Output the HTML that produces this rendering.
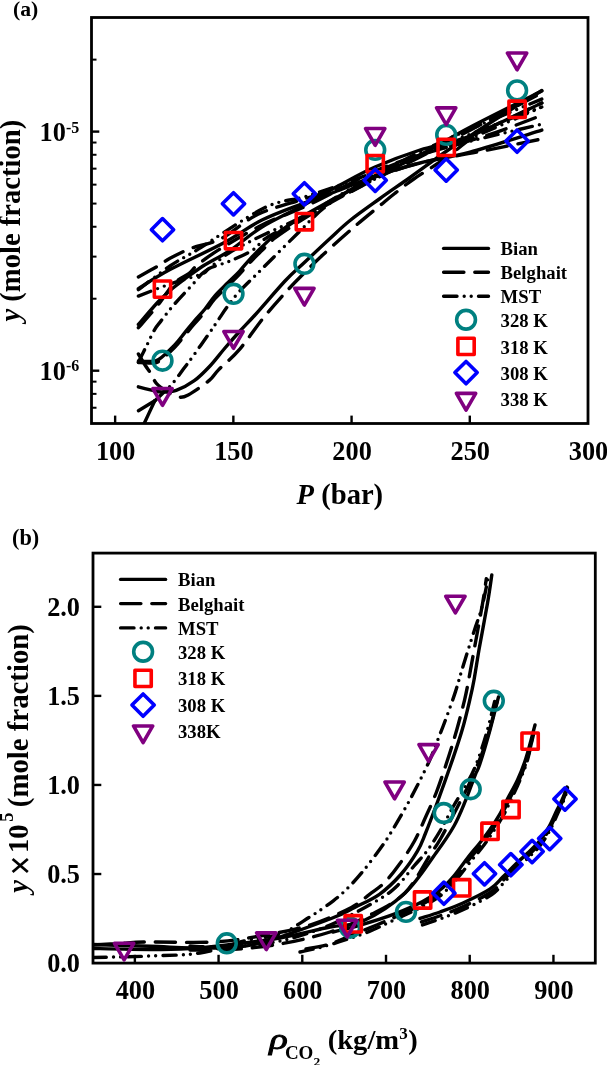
<!DOCTYPE html>
<html><head><meta charset="utf-8"><style>
html,body{margin:0;padding:0;background:#fff;width:607px;height:1065px;overflow:hidden}
svg{display:block;will-change:transform}
text{font-family:"Liberation Serif",serif}
</style></head><body>
<svg width="607" height="1065" viewBox="0 0 607 1065" font-family="Liberation Serif, serif"><line x1="115.14" y1="423.50" x2="115.14" y2="415.60" stroke="#000" stroke-width="2.4" stroke-linecap="butt"/>
<line x1="233.36" y1="423.50" x2="233.36" y2="415.60" stroke="#000" stroke-width="2.4" stroke-linecap="butt"/>
<line x1="351.57" y1="423.50" x2="351.57" y2="415.60" stroke="#000" stroke-width="2.4" stroke-linecap="butt"/>
<line x1="469.79" y1="423.50" x2="469.79" y2="415.60" stroke="#000" stroke-width="2.4" stroke-linecap="butt"/>
<text x="115.64" y="459.60" font-size="26.3" text-anchor="middle" font-weight="bold" font-style="normal" >100</text>
<text x="233.86" y="459.60" font-size="26.3" text-anchor="middle" font-weight="bold" font-style="normal" >150</text>
<text x="352.07" y="459.60" font-size="26.3" text-anchor="middle" font-weight="bold" font-style="normal" >200</text>
<text x="470.29" y="459.60" font-size="26.3" text-anchor="middle" font-weight="bold" font-style="normal" >250</text>
<text x="588.50" y="459.60" font-size="26.3" text-anchor="middle" font-weight="bold" font-style="normal" >300</text>
<line x1="91.50" y1="407.74" x2="96.50" y2="407.74" stroke="#000" stroke-width="2.0" stroke-linecap="butt"/>
<line x1="91.50" y1="393.87" x2="96.50" y2="393.87" stroke="#000" stroke-width="2.0" stroke-linecap="butt"/>
<line x1="91.50" y1="381.64" x2="96.50" y2="381.64" stroke="#000" stroke-width="2.0" stroke-linecap="butt"/>
<line x1="91.50" y1="370.70" x2="99.30" y2="370.70" stroke="#000" stroke-width="2.4" stroke-linecap="butt"/>
<line x1="91.50" y1="298.72" x2="96.50" y2="298.72" stroke="#000" stroke-width="2.0" stroke-linecap="butt"/>
<line x1="91.50" y1="256.62" x2="96.50" y2="256.62" stroke="#000" stroke-width="2.0" stroke-linecap="butt"/>
<line x1="91.50" y1="226.75" x2="96.50" y2="226.75" stroke="#000" stroke-width="2.0" stroke-linecap="butt"/>
<line x1="91.50" y1="203.58" x2="96.50" y2="203.58" stroke="#000" stroke-width="2.0" stroke-linecap="butt"/>
<line x1="91.50" y1="184.64" x2="96.50" y2="184.64" stroke="#000" stroke-width="2.0" stroke-linecap="butt"/>
<line x1="91.50" y1="168.64" x2="96.50" y2="168.64" stroke="#000" stroke-width="2.0" stroke-linecap="butt"/>
<line x1="91.50" y1="154.77" x2="96.50" y2="154.77" stroke="#000" stroke-width="2.0" stroke-linecap="butt"/>
<line x1="91.50" y1="142.54" x2="96.50" y2="142.54" stroke="#000" stroke-width="2.0" stroke-linecap="butt"/>
<line x1="91.50" y1="131.60" x2="99.30" y2="131.60" stroke="#000" stroke-width="2.4" stroke-linecap="butt"/>
<line x1="91.50" y1="59.62" x2="96.50" y2="59.62" stroke="#000" stroke-width="2.0" stroke-linecap="butt"/>
<text x="39.6" y="140.8" font-size="26.3" font-weight="bold">10<tspan dy="-8.2" font-size="16">-5</tspan></text>
<text x="39.6" y="379.6" font-size="26.3" font-weight="bold">10<tspan dy="-8.2" font-size="16">-6</tspan></text>
<rect x="91.5" y="17.5" width="496.5" height="406.0" fill="none" stroke="#000" stroke-width="2.8"/>
<text x="296.6" y="504.4" font-size="28.6" font-weight="bold"><tspan font-style="italic">P</tspan> (bar)</text>
<text transform="translate(19.9,321.5) rotate(-90)" font-size="28.6" font-weight="bold"><tspan font-style="italic">y</tspan> (mole fraction)</text>
<text x="13.00" y="15.70" font-size="21.7" text-anchor="start" font-weight="bold" font-style="normal" >(a)</text>
<line x1="134.86" y1="963.10" x2="134.86" y2="954.80" stroke="#000" stroke-width="2.4" stroke-linecap="butt"/>
<text x="135.36" y="999.20" font-size="26.3" text-anchor="middle" font-weight="bold" font-style="normal" >400</text>
<line x1="218.57" y1="963.10" x2="218.57" y2="954.80" stroke="#000" stroke-width="2.4" stroke-linecap="butt"/>
<text x="219.07" y="999.20" font-size="26.3" text-anchor="middle" font-weight="bold" font-style="normal" >500</text>
<line x1="302.29" y1="963.10" x2="302.29" y2="954.80" stroke="#000" stroke-width="2.4" stroke-linecap="butt"/>
<text x="302.79" y="999.20" font-size="26.3" text-anchor="middle" font-weight="bold" font-style="normal" >600</text>
<line x1="386.01" y1="963.10" x2="386.01" y2="954.80" stroke="#000" stroke-width="2.4" stroke-linecap="butt"/>
<text x="386.51" y="999.20" font-size="26.3" text-anchor="middle" font-weight="bold" font-style="normal" >700</text>
<line x1="469.72" y1="963.10" x2="469.72" y2="954.80" stroke="#000" stroke-width="2.4" stroke-linecap="butt"/>
<text x="470.22" y="999.20" font-size="26.3" text-anchor="middle" font-weight="bold" font-style="normal" >800</text>
<line x1="553.44" y1="963.10" x2="553.44" y2="954.80" stroke="#000" stroke-width="2.4" stroke-linecap="butt"/>
<text x="553.94" y="999.20" font-size="26.3" text-anchor="middle" font-weight="bold" font-style="normal" >900</text>
<text x="80.00" y="971.80" font-size="26.3" text-anchor="end" font-weight="bold" font-style="normal" >0.0</text>
<line x1="93.00" y1="874.02" x2="101.30" y2="874.02" stroke="#000" stroke-width="2.4" stroke-linecap="butt"/>
<text x="80.00" y="882.73" font-size="26.3" text-anchor="end" font-weight="bold" font-style="normal" >0.5</text>
<line x1="93.00" y1="784.95" x2="101.30" y2="784.95" stroke="#000" stroke-width="2.4" stroke-linecap="butt"/>
<text x="80.00" y="793.65" font-size="26.3" text-anchor="end" font-weight="bold" font-style="normal" >1.0</text>
<line x1="93.00" y1="695.88" x2="101.30" y2="695.88" stroke="#000" stroke-width="2.4" stroke-linecap="butt"/>
<text x="80.00" y="704.58" font-size="26.3" text-anchor="end" font-weight="bold" font-style="normal" >1.5</text>
<line x1="93.00" y1="606.80" x2="101.30" y2="606.80" stroke="#000" stroke-width="2.4" stroke-linecap="butt"/>
<text x="80.00" y="615.50" font-size="26.3" text-anchor="end" font-weight="bold" font-style="normal" >2.0</text>
<rect x="93.0" y="553.1" width="502.29999999999995" height="410.0" fill="none" stroke="#000" stroke-width="2.8"/>
<text x="12.00" y="544.80" font-size="22.3" text-anchor="start" font-weight="bold" font-style="normal" >(b)</text>
<text transform="translate(269.2,1048.6) scale(1.3,1)" font-size="29.7" font-style="italic" stroke="#000" stroke-width="0.9">ρ</text>
<text x="284.9" y="1058.5" font-size="19" font-weight="bold">CO</text>
<text x="313.6" y="1065.6" font-size="13.5" font-weight="bold">2</text>
<text transform="translate(327.7,1048.6) scale(1.075,1)" font-size="26.6" font-weight="bold">(kg/m</text>
<text x="399.2" y="1039" font-size="17" font-weight="bold">3</text>
<text transform="translate(408.2,1048.6) scale(1.075,1)" font-size="26.6" font-weight="bold">)</text>
<text transform="translate(27.9,892.70) rotate(-90)" font-size="28.6" font-weight="bold" font-style="italic">y</text>
<line x1="12.60" y1="858.90" x2="27.80" y2="872.00" stroke="#000" stroke-width="2.7" stroke-linecap="butt"/>
<line x1="12.60" y1="872.00" x2="27.80" y2="858.90" stroke="#000" stroke-width="2.7" stroke-linecap="butt"/>
<text transform="translate(27.9,853.10) rotate(-90)" font-size="28.6" font-weight="bold" font-style="normal">10</text>
<text transform="translate(12.5,821.70) rotate(-90)" font-size="18.5" font-weight="bold" font-style="normal">5</text>
<text transform="translate(27.9,807.20) rotate(-90)" font-size="28.8" font-weight="bold" font-style="normal">(mole fraction)</text>
<defs><clipPath id="ca"><rect x="91.5" y="17.5" width="496.5" height="406.0"/></clipPath><clipPath id="cb"><rect x="93.0" y="553.1" width="502.29999999999995" height="410.0"/></clipPath></defs>
<path d="M143.0 426.0C145.0 421.8 152.8 405.0 154.8 400.8" fill="none" stroke="#000" stroke-width="3.4" stroke-linecap="round" stroke-linejoin="round"   clip-path="url(#ca)"/>
<path d="M138.4 410.7C141.1 409.1 152.1 402.4 154.8 400.8" fill="none" stroke="#000" stroke-width="3.4" stroke-linecap="round" stroke-linejoin="round"   clip-path="url(#ca)"/>
<path d="M138.4 276.9C142.0 274.9 154.5 268.0 159.8 264.9C165.1 261.8 164.8 261.1 170.0 258.3C175.2 255.6 182.2 251.7 190.8 248.4C199.4 245.1 210.2 244.2 221.4 238.5C232.6 232.8 244.2 220.9 258.0 214.3C271.8 207.7 290.3 203.4 304.0 199.0C317.7 194.6 328.2 191.7 340.0 188.0C351.8 184.3 361.7 181.2 375.0 177.0C388.3 172.8 402.7 167.2 420.0 163.0C437.3 158.8 458.7 155.7 479.0 151.7C499.3 147.7 531.3 141.1 541.8 139.0" fill="none" stroke="#000" stroke-width="3.4" stroke-linecap="round" stroke-linejoin="round" stroke-dasharray="20.3 10.9"  clip-path="url(#ca)"/>
<path d="M138.4 288.6C143.7 285.4 155.8 277.2 170.0 269.6C184.2 262.0 208.1 251.3 223.4 243.0C238.7 234.7 248.6 226.7 262.0 220.0C275.4 213.3 291.0 208.0 304.0 203.0C317.0 198.0 329.0 194.2 340.0 190.0C351.0 185.8 356.7 182.5 370.0 178.0C383.3 173.5 403.3 167.3 420.0 163.0C436.7 158.7 449.7 157.7 470.0 152.2C490.3 146.7 529.8 133.8 541.8 130.1" fill="none" stroke="#000" stroke-width="3.4" stroke-linecap="round" stroke-linejoin="round"   clip-path="url(#ca)"/>
<path d="M138.4 289.7C143.7 285.8 160.6 272.4 170.0 266.0C179.4 259.6 189.4 254.6 194.7 251.4C200.0 248.2 190.0 254.3 201.6 247.0C213.2 239.7 247.4 216.1 264.5 207.8C281.6 199.5 291.4 200.8 304.0 197.0C316.6 193.2 328.2 189.2 340.0 185.0C351.8 180.8 361.7 177.0 375.0 172.0C388.3 167.0 404.2 160.1 420.0 155.0C435.8 149.9 449.7 146.3 470.0 141.2C490.3 136.1 529.8 127.0 541.8 124.2" fill="none" stroke="#000" stroke-width="3.4" stroke-linecap="round" stroke-linejoin="round" stroke-dasharray="13.4 7.2 0 7.0 0 7.3"  clip-path="url(#ca)"/>
<path d="M138.4 296.1C143.7 294.1 159.5 287.7 170.0 284.0C180.5 280.3 195.0 276.7 201.6 274.1C208.2 271.5 204.8 270.4 209.5 268.2C214.2 266.0 222.9 264.0 230.0 261.0C237.1 258.0 246.4 254.0 252.2 250.3C258.0 246.7 260.1 242.4 264.6 239.1C269.1 235.8 274.2 233.4 279.4 230.5C284.5 227.6 291.4 224.1 295.5 221.8C299.6 219.5 296.7 221.4 304.1 216.9C311.5 212.4 328.2 202.0 340.0 195.0C351.8 188.0 361.7 181.7 375.0 175.0C388.3 168.3 404.2 161.1 420.0 155.0C435.8 148.9 449.7 146.2 470.0 138.2C490.3 130.2 529.8 112.2 541.8 107.0" fill="none" stroke="#000" stroke-width="3.4" stroke-linecap="round" stroke-linejoin="round" stroke-dasharray="13.4 7.2 0 7.0 0 7.3"  clip-path="url(#ca)"/>
<path d="M138.4 324.5C141.7 320.8 152.2 308.1 158.0 302.0C163.8 295.9 166.0 293.7 173.0 288.0C180.0 282.3 190.6 274.2 200.0 268.0C209.4 261.8 219.0 257.7 229.3 250.9C239.6 244.1 249.6 234.7 262.0 227.0C274.4 219.3 291.0 212.0 304.0 205.0C317.0 198.0 328.2 191.3 340.0 185.0C351.8 178.7 361.7 172.8 375.0 167.0C388.3 161.2 404.2 155.1 420.0 150.0C435.8 144.9 449.7 144.0 470.0 136.2C490.3 128.4 529.8 108.5 541.8 103.0" fill="none" stroke="#000" stroke-width="3.4" stroke-linecap="round" stroke-linejoin="round"   clip-path="url(#ca)"/>
<path d="M138.4 327.7C141.7 323.9 152.1 312.4 158.0 305.0C163.9 297.6 168.9 288.7 174.0 283.5C179.1 278.3 184.9 276.7 188.8 273.6C192.8 270.5 192.6 268.7 197.7 264.7C202.8 260.7 208.7 256.0 219.4 249.4C230.1 242.8 247.9 232.1 262.0 225.0C276.1 217.9 291.0 213.0 304.0 207.0C317.0 201.0 328.2 195.0 340.0 189.0C351.8 183.0 361.7 176.7 375.0 171.0C388.3 165.3 401.3 160.9 420.0 155.0C438.7 149.1 466.7 142.0 487.0 135.4C507.3 128.8 532.7 118.7 541.8 115.3" fill="none" stroke="#000" stroke-width="3.4" stroke-linecap="round" stroke-linejoin="round" stroke-dasharray="20.3 10.9"  clip-path="url(#ca)"/>
<path d="M138.4 361.0C140.3 361.1 146.6 361.8 150.0 361.5C153.4 361.2 154.6 362.2 158.7 359.5C162.8 356.8 170.1 349.6 174.5 345.1C178.9 340.6 181.7 336.3 185.0 332.3C188.3 328.3 191.0 324.9 194.3 321.0C197.6 317.1 201.4 313.4 204.8 309.2C208.2 305.0 210.9 300.4 214.7 296.0C218.5 291.6 223.7 286.9 227.8 282.8C231.9 278.7 235.6 275.4 239.4 271.3C243.2 267.2 247.1 262.2 250.9 258.1C254.7 254.0 258.4 250.4 262.4 246.6C266.4 242.8 268.7 239.8 275.0 235.0C281.3 230.2 290.8 223.7 300.0 218.0C309.2 212.3 320.0 206.5 330.0 201.0C340.0 195.5 352.5 189.0 360.0 185.0C367.5 181.0 365.0 182.0 375.0 177.0C385.0 172.0 404.2 163.3 420.0 155.0C435.8 146.7 449.7 137.9 470.0 127.2C490.3 116.5 529.8 97.0 541.8 91.0" fill="none" stroke="#000" stroke-width="3.4" stroke-linecap="round" stroke-linejoin="round"   clip-path="url(#ca)"/>
<path d="M138.4 362.5C140.3 362.6 146.6 363.2 150.0 363.0C153.4 362.8 154.6 364.1 158.7 361.5C162.8 358.9 170.1 351.9 174.5 347.5C178.9 343.1 181.7 338.9 185.0 335.0C188.3 331.1 191.0 327.8 194.3 324.0C197.6 320.2 201.4 316.2 204.8 312.0C208.2 307.8 210.9 303.4 214.7 299.0C218.5 294.6 223.7 289.9 227.8 285.8C231.9 281.7 235.6 278.4 239.4 274.3C243.2 270.2 247.1 265.6 250.9 261.5C254.7 257.4 258.4 253.9 262.4 250.0C266.4 246.1 268.7 242.8 275.0 238.0C281.3 233.2 290.8 226.8 300.0 221.0C309.2 215.2 320.0 208.7 330.0 203.0C340.0 197.3 352.5 191.0 360.0 187.0C367.5 183.0 365.0 184.0 375.0 179.0C385.0 174.0 404.2 165.1 420.0 157.0C435.8 148.9 449.7 140.9 470.0 130.2C490.3 119.5 529.8 99.2 541.8 93.0" fill="none" stroke="#000" stroke-width="3.4" stroke-linecap="round" stroke-linejoin="round" stroke-dasharray="20.3 10.9"  clip-path="url(#ca)"/>
<path d="M138.4 362.0C139.8 359.2 144.2 350.6 146.9 345.1C149.6 339.7 152.5 333.2 154.8 329.3C157.1 325.4 158.1 324.8 160.7 321.4C163.3 317.9 167.6 312.2 170.6 308.6C173.6 305.0 174.3 304.3 178.5 299.7C182.7 295.1 191.8 285.3 195.7 281.0C199.5 276.7 199.3 276.2 201.6 274.1C203.9 272.0 206.4 270.6 209.5 268.2C212.6 265.8 216.2 262.4 220.0 259.5C223.8 256.6 227.0 254.0 232.0 251.0C237.0 248.0 242.8 245.1 250.0 241.5C257.2 237.9 266.7 233.4 275.0 229.5C283.3 225.6 289.2 223.4 300.0 218.0C310.8 212.6 327.5 203.5 340.0 197.0C352.5 190.5 361.7 186.0 375.0 179.0C388.3 172.0 404.2 162.5 420.0 155.0C435.8 147.5 449.7 142.2 470.0 134.2C490.3 126.2 529.8 111.5 541.8 107.0" fill="none" stroke="#000" stroke-width="3.4" stroke-linecap="round" stroke-linejoin="round" stroke-dasharray="13.4 7.2 0 7.0 0 7.3"  clip-path="url(#ca)"/>
<path d="M138.4 386.8C140.6 387.4 147.6 389.2 151.5 390.1C155.4 391.0 157.9 392.0 162.0 392.0C166.1 392.0 170.8 392.2 176.2 390.3C181.6 388.4 188.7 384.8 194.3 380.7C199.9 376.6 204.9 371.4 210.0 366.0C215.1 360.6 220.0 353.8 225.0 348.0C230.0 342.2 235.0 336.5 240.0 331.0C245.0 325.5 247.5 323.3 255.0 315.0C262.5 306.7 276.8 289.8 285.0 281.0C293.2 272.2 296.9 269.6 304.4 262.5C311.9 255.4 322.4 245.5 330.0 238.5C337.6 231.5 341.7 227.2 350.0 220.5C358.3 213.8 370.0 205.7 380.0 198.5C390.0 191.3 399.0 185.3 410.0 177.5C421.0 169.7 436.0 158.4 446.0 151.5C456.0 144.6 461.0 141.8 470.0 136.0C479.0 130.2 488.0 124.1 500.0 116.5C512.0 108.9 534.8 94.8 541.8 90.5" fill="none" stroke="#000" stroke-width="3.4" stroke-linecap="round" stroke-linejoin="round"   clip-path="url(#ca)"/>
<path d="M138.4 354.0C139.5 355.8 142.8 361.6 145.0 365.0C147.2 368.4 149.6 371.4 151.5 374.5C153.4 377.6 154.0 380.9 156.6 383.7C159.2 386.5 163.4 389.3 167.0 391.5C170.6 393.7 174.8 396.3 178.3 396.9C181.8 397.5 183.0 397.6 188.2 394.9C193.4 392.1 204.2 384.6 209.3 380.4C214.4 376.2 213.4 375.1 218.5 369.9C223.6 364.7 232.5 357.6 239.8 349.1C247.1 340.6 254.9 328.5 262.4 319.1C269.9 309.8 278.4 300.3 285.0 293.0C291.6 285.7 295.4 281.8 301.7 275.5C308.0 269.2 314.1 263.0 322.7 255.0C331.3 247.0 343.9 235.8 353.5 227.5C363.1 219.2 373.1 211.2 380.0 205.5C386.9 199.8 388.9 198.0 394.7 193.5C400.4 189.0 405.9 184.4 414.5 178.5C423.1 172.6 435.1 165.6 446.0 158.0C456.9 150.4 464.0 142.2 480.0 133.0C496.0 123.8 531.5 108.0 541.8 103.0" fill="none" stroke="#000" stroke-width="3.4" stroke-linecap="round" stroke-linejoin="round" stroke-dasharray="20.3 10.9"  clip-path="url(#ca)"/>
<path d="M154.8 400.8C156.2 399.5 160.1 395.9 163.0 393.0C165.9 390.1 169.1 387.5 172.5 383.5C175.9 379.5 179.9 373.8 183.4 369.1C186.9 364.4 189.4 361.2 193.5 355.5C197.6 349.8 203.9 340.8 208.0 335.0C212.1 329.2 214.6 325.3 217.9 320.5C221.2 315.7 224.2 310.9 227.9 306.0C231.6 301.1 234.1 297.2 239.8 291.0C245.5 284.8 252.2 278.7 262.1 268.8C272.0 258.9 288.9 241.9 299.2 231.8C309.5 221.7 314.0 215.8 323.9 208.0C333.8 200.2 349.1 190.6 358.5 184.8C367.9 179.0 369.8 178.5 380.0 173.0C390.2 167.5 405.0 159.3 420.0 152.0C435.0 144.7 449.7 138.0 470.0 129.2C490.3 120.4 529.8 104.1 541.8 99.1" fill="none" stroke="#000" stroke-width="3.4" stroke-linecap="round" stroke-linejoin="round" stroke-dasharray="13.4 7.2 0 7.0 0 7.3"  clip-path="url(#ca)"/>
<path d="M93.0 957.5C102.5 957.2 132.2 956.8 150.0 956.0C167.8 955.2 184.3 955.5 200.0 953.0C215.7 950.5 230.7 944.2 244.0 941.0C257.3 937.8 269.1 938.0 280.0 934.0C290.9 930.0 300.8 922.5 309.7 917.0C318.6 911.5 326.9 905.7 333.3 900.8C339.7 895.9 343.2 892.6 348.1 887.7C353.1 882.8 357.8 877.5 363.0 871.2C368.2 864.9 374.7 856.2 379.4 849.8C384.1 843.3 385.7 841.2 391.0 832.5C396.3 823.8 404.9 809.1 411.2 797.3C417.5 785.5 424.3 772.0 429.0 761.7C433.7 751.4 436.6 742.6 439.5 735.4C442.4 728.1 443.5 725.5 446.1 718.2C448.8 711.0 452.8 699.9 455.4 691.9C458.0 683.9 458.8 680.1 461.9 670.0C465.0 659.9 470.6 641.9 474.0 631.4C477.4 620.9 479.6 616.2 482.0 607.0C484.4 597.8 487.4 581.2 488.5 576.0" fill="none" stroke="#000" stroke-width="3.4" stroke-linecap="round" stroke-linejoin="round" stroke-dasharray="13.4 7.2 0 7.0 0 7.3"  clip-path="url(#cb)"/>
<path d="M93.0 945.0C97.5 944.8 110.8 944.0 120.0 943.5C129.2 943.0 132.5 942.2 148.0 942.0C163.5 941.8 194.3 943.0 213.0 942.0C231.7 941.0 243.8 938.8 260.0 936.0C276.2 933.2 294.8 929.8 310.0 925.0C325.2 920.2 341.5 912.5 351.4 907.4C361.3 902.3 364.0 898.4 369.5 894.3C375.0 890.2 379.4 887.7 384.4 882.7C389.3 877.8 394.2 871.6 399.2 864.6C404.2 857.6 410.2 848.8 414.5 841.0C418.8 833.2 421.5 826.2 425.2 818.0C428.9 809.8 432.6 802.2 436.5 792.0C440.4 781.8 445.1 767.5 448.5 757.0C451.9 746.5 454.3 738.5 457.0 729.0C459.7 719.5 462.8 707.3 464.6 699.8C466.4 692.3 466.1 693.2 467.9 684.0C469.6 674.8 472.7 658.0 475.1 644.5C477.6 631.0 480.7 614.2 482.6 603.2C484.5 592.2 485.7 582.9 486.3 578.8" fill="none" stroke="#000" stroke-width="3.4" stroke-linecap="round" stroke-linejoin="round" stroke-dasharray="20.3 10.9"  clip-path="url(#cb)"/>
<path d="M93.0 944.5C102.5 944.8 130.0 945.7 150.0 946.3C170.0 946.9 194.7 948.6 213.0 948.1C231.3 947.6 240.5 947.9 260.0 943.0C279.5 938.1 314.2 924.9 330.0 919.0C345.8 913.1 346.5 911.5 354.7 907.4C362.9 903.3 371.7 899.8 379.4 894.3C387.1 888.8 394.5 881.6 400.8 874.5C407.1 867.4 413.2 858.3 417.3 851.4C421.4 844.5 422.1 841.6 425.6 833.0C429.1 824.4 433.7 812.3 438.2 800.0C442.7 787.7 448.6 771.0 452.7 759.1C456.8 747.2 459.7 738.5 462.5 728.8C465.3 719.1 467.6 709.2 469.5 701.1C471.4 693.0 472.4 688.9 474.0 680.0C475.6 671.1 477.1 660.8 479.3 648.0C481.6 635.2 485.4 615.4 487.5 603.2C489.6 591.0 491.1 579.7 491.8 575.0" fill="none" stroke="#000" stroke-width="3.4" stroke-linecap="round" stroke-linejoin="round"   clip-path="url(#cb)"/>
<path d="M93.0 948.5C102.5 948.7 133.8 949.5 150.0 949.5C166.2 949.5 177.2 949.2 190.0 948.5C202.8 947.8 212.0 946.8 227.0 945.0C242.0 943.2 262.8 941.0 280.0 938.0C297.2 935.0 316.2 929.8 330.0 927.0C343.8 924.2 350.5 926.7 363.0 921.0C375.5 915.3 392.8 904.3 405.0 893.0C417.2 881.7 427.8 864.2 436.0 853.0C444.2 841.8 449.1 834.7 454.0 826.0C458.9 817.3 462.0 809.1 465.5 800.6C469.0 792.1 472.8 781.0 475.2 775.0C477.6 769.0 477.2 772.0 479.7 764.5C482.2 757.0 486.9 741.2 490.0 730.0C493.1 718.8 497.1 702.5 498.5 697.0" fill="none" stroke="#000" stroke-width="3.4" stroke-linecap="round" stroke-linejoin="round"   clip-path="url(#cb)"/>
<path d="M190.0 946.0C196.2 946.2 212.0 947.8 227.0 947.0C242.0 946.2 262.8 944.7 280.0 941.0C297.2 937.3 313.7 931.8 330.0 925.0C346.3 918.2 366.7 906.7 378.0 900.0C389.3 893.3 392.0 890.7 398.0 885.0C404.0 879.3 409.2 871.7 414.0 866.0C418.8 860.3 422.7 856.8 427.0 851.0C431.3 845.2 435.7 838.3 440.0 831.0C444.3 823.7 448.7 814.7 453.0 807.0C457.3 799.3 462.2 791.8 466.0 785.0C469.8 778.2 472.2 774.3 475.5 766.0C478.8 757.7 482.8 746.0 486.0 735.0C489.2 724.0 493.5 705.8 495.0 700.0" fill="none" stroke="#000" stroke-width="3.4" stroke-linecap="round" stroke-linejoin="round" stroke-dasharray="13.4 7.2 0 7.0 0 7.3"  clip-path="url(#cb)"/>
<path d="M190.0 950.0C196.2 950.0 212.0 951.0 227.0 950.0C242.0 949.0 262.8 947.0 280.0 944.0C297.2 941.0 315.0 936.8 330.0 932.0C345.0 927.2 357.5 921.5 370.0 915.0C382.5 908.5 395.0 903.0 405.0 893.0C415.0 883.0 424.0 864.2 430.0 855.0C436.0 845.8 436.2 846.5 441.0 838.0C445.8 829.5 454.0 813.7 459.0 804.0C464.0 794.3 466.7 789.8 471.0 780.0C475.3 770.2 480.7 758.0 485.0 745.0C489.3 732.0 495.0 709.2 497.0 702.0" fill="none" stroke="#000" stroke-width="3.4" stroke-linecap="round" stroke-linejoin="round" stroke-dasharray="20.3 10.9"  clip-path="url(#cb)"/>
<path d="M333.0 932.0C337.4 930.9 349.3 928.3 359.5 925.3C369.7 922.3 383.6 918.1 394.1 914.1C404.6 910.1 415.0 905.5 422.6 901.5C430.2 897.5 434.8 894.2 440.0 890.0C445.2 885.8 449.2 881.5 453.8 876.1C458.4 870.7 463.5 863.1 467.7 857.7C471.9 852.3 475.5 848.4 479.2 843.8C482.9 839.2 486.1 835.0 489.6 830.0C493.1 825.0 497.1 818.8 500.0 813.8C502.9 808.8 504.0 805.6 506.9 800.0C509.8 794.4 514.3 787.0 517.5 780.0C520.7 773.0 523.1 767.2 526.0 758.0C528.9 748.8 533.5 730.5 535.0 725.0" fill="none" stroke="#000" stroke-width="3.4" stroke-linecap="round" stroke-linejoin="round"   clip-path="url(#cb)"/>
<path d="M306.0 949.0C310.0 948.2 321.1 946.8 330.0 944.0C338.9 941.2 348.8 936.4 359.5 932.0C370.2 927.6 383.6 922.2 394.1 917.5C404.6 912.8 415.0 908.1 422.6 904.0C430.2 899.9 434.6 897.3 440.0 893.0C445.4 888.7 450.1 883.7 455.0 878.0C459.9 872.3 465.2 864.5 469.5 859.0C473.8 853.5 477.3 849.7 481.0 845.0C484.7 840.3 488.0 836.2 491.5 831.0C495.0 825.8 499.1 819.2 502.0 814.0C504.9 808.8 506.1 805.8 509.0 800.0C511.9 794.2 516.4 786.0 519.5 779.0C522.6 772.0 524.9 766.5 527.5 758.0C530.1 749.5 533.8 733.0 535.0 728.0" fill="none" stroke="#000" stroke-width="3.4" stroke-linecap="round" stroke-linejoin="round" stroke-dasharray="20.3 10.9"  clip-path="url(#cb)"/>
<path d="M300.0 952.0C303.3 951.2 312.5 949.5 320.0 947.5C327.5 945.5 336.8 942.7 345.0 940.0C353.2 937.3 361.2 934.7 369.4 931.4C377.6 928.1 385.2 924.1 394.1 920.0C403.0 915.9 415.0 910.5 422.6 906.5C430.2 902.5 434.4 900.4 440.0 896.0C445.6 891.6 450.8 885.8 456.0 880.0C461.2 874.2 466.6 866.5 471.0 861.0C475.4 855.5 478.8 851.8 482.5 847.0C486.2 842.2 489.6 837.2 493.0 832.0C496.4 826.8 500.2 821.0 503.0 816.0C505.8 811.0 507.2 808.0 510.0 802.0C512.8 796.0 517.1 787.0 520.0 780.0C522.9 773.0 525.2 768.3 527.5 760.0C529.8 751.7 532.9 735.0 534.0 730.0" fill="none" stroke="#000" stroke-width="3.4" stroke-linecap="round" stroke-linejoin="round" stroke-dasharray="13.4 7.2 0 7.0 0 7.3"  clip-path="url(#cb)"/>
<path d="M420.0 918.4C423.3 917.3 432.8 914.6 440.0 912.0C447.2 909.4 454.7 906.8 463.0 903.0C471.3 899.2 483.1 893.6 489.8 889.2C496.5 884.8 498.6 881.0 503.0 876.8C507.4 872.5 512.0 867.7 516.1 863.7C520.2 859.7 523.9 856.7 527.7 853.0C531.6 849.3 535.6 845.8 539.2 841.4C542.8 837.0 546.3 831.5 549.1 826.6C551.9 821.7 553.9 816.4 556.0 812.0C558.1 807.6 560.2 804.2 562.0 800.0C563.8 795.8 566.2 789.2 567.0 787.0" fill="none" stroke="#000" stroke-width="3.4" stroke-linecap="round" stroke-linejoin="round"   clip-path="url(#cb)"/>
<path d="M421.5 921.9C424.8 920.8 434.3 917.9 441.4 915.3C448.5 912.7 456.0 910.0 464.3 906.1C472.6 902.2 484.4 896.5 491.0 892.0C497.6 887.5 499.8 883.7 504.1 879.4C508.5 875.1 513.0 870.1 517.1 866.1C521.2 862.1 524.8 859.0 528.6 855.2C532.4 851.4 536.5 847.8 540.0 843.3C543.5 838.8 547.0 833.3 549.8 828.3C552.6 823.3 554.5 818.0 556.6 813.5C558.7 809.0 560.7 805.5 562.5 801.3C564.3 797.0 566.7 790.2 567.5 788.0" fill="none" stroke="#000" stroke-width="3.4" stroke-linecap="round" stroke-linejoin="round" stroke-dasharray="20.3 10.9"  clip-path="url(#cb)"/>
<path d="M422.5 924.9C425.8 923.8 435.2 920.8 442.3 918.1C449.4 915.4 456.9 912.6 465.2 908.7C473.4 904.8 485.2 899.0 491.8 894.5C498.4 890.0 500.6 886.0 504.9 881.6C509.2 877.2 513.8 872.2 517.8 868.1C521.8 864.0 525.4 860.9 529.2 857.0C533.0 853.1 537.1 849.5 540.6 845.0C544.1 840.5 547.5 834.8 550.3 829.8C553.0 824.8 555.0 819.4 557.1 814.8C559.2 810.2 561.1 806.7 562.9 802.4C564.7 798.1 567.0 791.2 567.8 789.0" fill="none" stroke="#000" stroke-width="3.4" stroke-linecap="round" stroke-linejoin="round" stroke-dasharray="13.4 7.2 0 7.0 0 7.3"  clip-path="url(#cb)"/>
<line x1="443.59999999999997" y1="248.4" x2="488.5" y2="248.4" stroke="#000" stroke-width="3.4" stroke-linecap="round" />
<text x="500.60" y="255.00" font-size="18.7" text-anchor="start" font-weight="bold" font-style="normal" >Bian</text>
<line x1="443.59999999999997" y1="272.3" x2="488.5" y2="272.3" stroke="#000" stroke-width="3.4" stroke-linecap="round" stroke-dasharray="20.3 10.9"/>
<text x="500.60" y="278.70" font-size="18.7" text-anchor="start" font-weight="bold" font-style="normal" >Belghait</text>
<line x1="443.59999999999997" y1="296.3" x2="488.5" y2="296.3" stroke="#000" stroke-width="3.4" stroke-linecap="round" stroke-dasharray="13.4 7.2 0 7.0 0 7.3"/>
<text x="500.60" y="302.50" font-size="18.7" text-anchor="start" font-weight="bold" font-style="normal" >MST</text>
<circle cx="466.05" cy="319.75" r="9.4" fill="none" stroke="#008080" stroke-width="3.6"/>
<text x="500.60" y="327.20" font-size="18.7" text-anchor="start" font-weight="bold" font-style="normal" >328 K</text>
<rect x="457.90" y="338.20" width="16.3" height="16.3" fill="none" stroke="#ff0000" stroke-width="3.6" stroke-linejoin="round"/>
<text x="500.60" y="353.50" font-size="18.7" text-anchor="start" font-weight="bold" font-style="normal" >318 K</text>
<path d="M466.05 361.45L477.20 372.60L466.05 383.75L454.90 372.60Z" fill="none" stroke="#0000ff" stroke-width="3.6" stroke-linejoin="round"/>
<text x="500.60" y="379.70" font-size="18.7" text-anchor="start" font-weight="bold" font-style="normal" >308 K</text>
<path d="M456.40 393.40L475.70 393.40L466.05 410.10Z" fill="none" stroke="#800080" stroke-width="3.6" stroke-linejoin="round"/>
<text x="500.60" y="406.00" font-size="18.7" text-anchor="start" font-weight="bold" font-style="normal" >338 K</text>
<line x1="120.60000000000001" y1="579.4" x2="165.60000000000002" y2="579.4" stroke="#000" stroke-width="3.4" stroke-linecap="round" />
<text x="178.00" y="586.40" font-size="18.7" text-anchor="start" font-weight="bold" font-style="normal" >Bian</text>
<line x1="120.60000000000001" y1="603.6" x2="165.60000000000002" y2="603.6" stroke="#000" stroke-width="3.4" stroke-linecap="round" stroke-dasharray="20.3 10.9"/>
<text x="178.00" y="610.90" font-size="18.7" text-anchor="start" font-weight="bold" font-style="normal" >Belghait</text>
<line x1="120.60000000000001" y1="627.9" x2="165.60000000000002" y2="627.9" stroke="#000" stroke-width="3.4" stroke-linecap="round" stroke-dasharray="13.4 7.2 0 7.0 0 7.3"/>
<text x="178.00" y="634.60" font-size="18.7" text-anchor="start" font-weight="bold" font-style="normal" >MST</text>
<circle cx="143.10" cy="651.75" r="9.4" fill="none" stroke="#008080" stroke-width="3.6"/>
<text x="178.00" y="658.90" font-size="18.7" text-anchor="start" font-weight="bold" font-style="normal" >328 K</text>
<rect x="134.95" y="670.25" width="16.3" height="16.3" fill="none" stroke="#ff0000" stroke-width="3.6" stroke-linejoin="round"/>
<text x="178.00" y="685.20" font-size="18.7" text-anchor="start" font-weight="bold" font-style="normal" >318 K</text>
<path d="M143.10 693.95L154.25 705.10L143.10 716.25L131.95 705.10Z" fill="none" stroke="#0000ff" stroke-width="3.6" stroke-linejoin="round"/>
<text x="178.00" y="711.50" font-size="18.7" text-anchor="start" font-weight="bold" font-style="normal" >308 K</text>
<path d="M133.45 725.95L152.75 725.95L143.10 742.65Z" fill="none" stroke="#800080" stroke-width="3.6" stroke-linejoin="round"/>
<text x="178.00" y="737.80" font-size="18.7" text-anchor="start" font-weight="bold" font-style="normal" >338K</text>
<circle cx="162.50" cy="360.70" r="9.4" fill="none" stroke="#008080" stroke-width="3.6"/>
<circle cx="233.50" cy="293.80" r="9.4" fill="none" stroke="#008080" stroke-width="3.6"/>
<circle cx="304.40" cy="263.80" r="9.4" fill="none" stroke="#008080" stroke-width="3.6"/>
<circle cx="375.20" cy="149.90" r="9.4" fill="none" stroke="#008080" stroke-width="3.6"/>
<circle cx="446.20" cy="134.90" r="9.4" fill="none" stroke="#008080" stroke-width="3.6"/>
<circle cx="517.10" cy="90.40" r="9.4" fill="none" stroke="#008080" stroke-width="3.6"/>
<rect x="154.35" y="280.95" width="16.3" height="16.3" fill="none" stroke="#ff0000" stroke-width="3.6" stroke-linejoin="round"/>
<rect x="225.35" y="232.55" width="16.3" height="16.3" fill="none" stroke="#ff0000" stroke-width="3.6" stroke-linejoin="round"/>
<rect x="296.25" y="213.55" width="16.3" height="16.3" fill="none" stroke="#ff0000" stroke-width="3.6" stroke-linejoin="round"/>
<rect x="367.05" y="155.55" width="16.3" height="16.3" fill="none" stroke="#ff0000" stroke-width="3.6" stroke-linejoin="round"/>
<rect x="438.05" y="139.25" width="16.3" height="16.3" fill="none" stroke="#ff0000" stroke-width="3.6" stroke-linejoin="round"/>
<rect x="508.95" y="101.15" width="16.3" height="16.3" fill="none" stroke="#ff0000" stroke-width="3.6" stroke-linejoin="round"/>
<path d="M162.50 218.55L173.65 229.70L162.50 240.85L151.35 229.70Z" fill="none" stroke="#0000ff" stroke-width="3.6" stroke-linejoin="round"/>
<path d="M233.50 192.65L244.65 203.80L233.50 214.95L222.35 203.80Z" fill="none" stroke="#0000ff" stroke-width="3.6" stroke-linejoin="round"/>
<path d="M304.40 182.65L315.55 193.80L304.40 204.95L293.25 193.80Z" fill="none" stroke="#0000ff" stroke-width="3.6" stroke-linejoin="round"/>
<path d="M375.20 169.15L386.35 180.30L375.20 191.45L364.05 180.30Z" fill="none" stroke="#0000ff" stroke-width="3.6" stroke-linejoin="round"/>
<path d="M446.20 158.85L457.35 170.00L446.20 181.15L435.05 170.00Z" fill="none" stroke="#0000ff" stroke-width="3.6" stroke-linejoin="round"/>
<path d="M517.10 129.95L528.25 141.10L517.10 152.25L505.95 141.10Z" fill="none" stroke="#0000ff" stroke-width="3.6" stroke-linejoin="round"/>
<path d="M152.85 388.55L172.15 388.55L162.50 405.25Z" fill="none" stroke="#800080" stroke-width="3.6" stroke-linejoin="round"/>
<path d="M223.85 331.55L243.15 331.55L233.50 348.25Z" fill="none" stroke="#800080" stroke-width="3.6" stroke-linejoin="round"/>
<path d="M294.75 288.35L314.05 288.35L304.40 305.05Z" fill="none" stroke="#800080" stroke-width="3.6" stroke-linejoin="round"/>
<path d="M365.55 128.55L384.85 128.55L375.20 145.25Z" fill="none" stroke="#800080" stroke-width="3.6" stroke-linejoin="round"/>
<path d="M436.55 107.85L455.85 107.85L446.20 124.55Z" fill="none" stroke="#800080" stroke-width="3.6" stroke-linejoin="round"/>
<path d="M507.45 53.05L526.75 53.05L517.10 69.75Z" fill="none" stroke="#800080" stroke-width="3.6" stroke-linejoin="round"/>
<circle cx="226.80" cy="943.30" r="9.4" fill="none" stroke="#008080" stroke-width="3.6"/>
<circle cx="350.20" cy="927.70" r="9.4" fill="none" stroke="#008080" stroke-width="3.6"/>
<circle cx="406.00" cy="911.90" r="9.4" fill="none" stroke="#008080" stroke-width="3.6"/>
<circle cx="443.70" cy="813.00" r="9.4" fill="none" stroke="#008080" stroke-width="3.6"/>
<circle cx="470.70" cy="789.20" r="9.4" fill="none" stroke="#008080" stroke-width="3.6"/>
<circle cx="493.80" cy="700.80" r="9.4" fill="none" stroke="#008080" stroke-width="3.6"/>
<rect x="345.05" y="915.65" width="16.3" height="16.3" fill="none" stroke="#ff0000" stroke-width="3.6" stroke-linejoin="round"/>
<rect x="414.45" y="891.85" width="16.3" height="16.3" fill="none" stroke="#ff0000" stroke-width="3.6" stroke-linejoin="round"/>
<rect x="453.55" y="879.65" width="16.3" height="16.3" fill="none" stroke="#ff0000" stroke-width="3.6" stroke-linejoin="round"/>
<rect x="481.85" y="823.15" width="16.3" height="16.3" fill="none" stroke="#ff0000" stroke-width="3.6" stroke-linejoin="round"/>
<rect x="502.85" y="801.35" width="16.3" height="16.3" fill="none" stroke="#ff0000" stroke-width="3.6" stroke-linejoin="round"/>
<rect x="521.95" y="732.95" width="16.3" height="16.3" fill="none" stroke="#ff0000" stroke-width="3.6" stroke-linejoin="round"/>
<path d="M443.90 882.05L455.05 893.20L443.90 904.35L432.75 893.20Z" fill="none" stroke="#0000ff" stroke-width="3.6" stroke-linejoin="round"/>
<path d="M484.50 862.65L495.65 873.80L484.50 884.95L473.35 873.80Z" fill="none" stroke="#0000ff" stroke-width="3.6" stroke-linejoin="round"/>
<path d="M510.80 853.55L521.95 864.70L510.80 875.85L499.65 864.70Z" fill="none" stroke="#0000ff" stroke-width="3.6" stroke-linejoin="round"/>
<path d="M532.10 840.35L543.25 851.50L532.10 862.65L520.95 851.50Z" fill="none" stroke="#0000ff" stroke-width="3.6" stroke-linejoin="round"/>
<path d="M549.70 827.35L560.85 838.50L549.70 849.65L538.55 838.50Z" fill="none" stroke="#0000ff" stroke-width="3.6" stroke-linejoin="round"/>
<path d="M565.00 787.85L576.15 799.00L565.00 810.15L553.85 799.00Z" fill="none" stroke="#0000ff" stroke-width="3.6" stroke-linejoin="round"/>
<path d="M114.45 943.25L133.75 943.25L124.10 959.95Z" fill="none" stroke="#800080" stroke-width="3.6" stroke-linejoin="round"/>
<path d="M256.65 932.85L275.95 932.85L266.30 949.55Z" fill="none" stroke="#800080" stroke-width="3.6" stroke-linejoin="round"/>
<path d="M337.55 920.25L356.85 920.25L347.20 936.95Z" fill="none" stroke="#800080" stroke-width="3.6" stroke-linejoin="round"/>
<path d="M384.95 782.05L404.25 782.05L394.60 798.75Z" fill="none" stroke="#800080" stroke-width="3.6" stroke-linejoin="round"/>
<path d="M418.95 744.65L438.25 744.65L428.60 761.35Z" fill="none" stroke="#800080" stroke-width="3.6" stroke-linejoin="round"/>
<path d="M445.75 596.25L465.05 596.25L455.40 612.95Z" fill="none" stroke="#800080" stroke-width="3.6" stroke-linejoin="round"/></svg>
</body></html>
